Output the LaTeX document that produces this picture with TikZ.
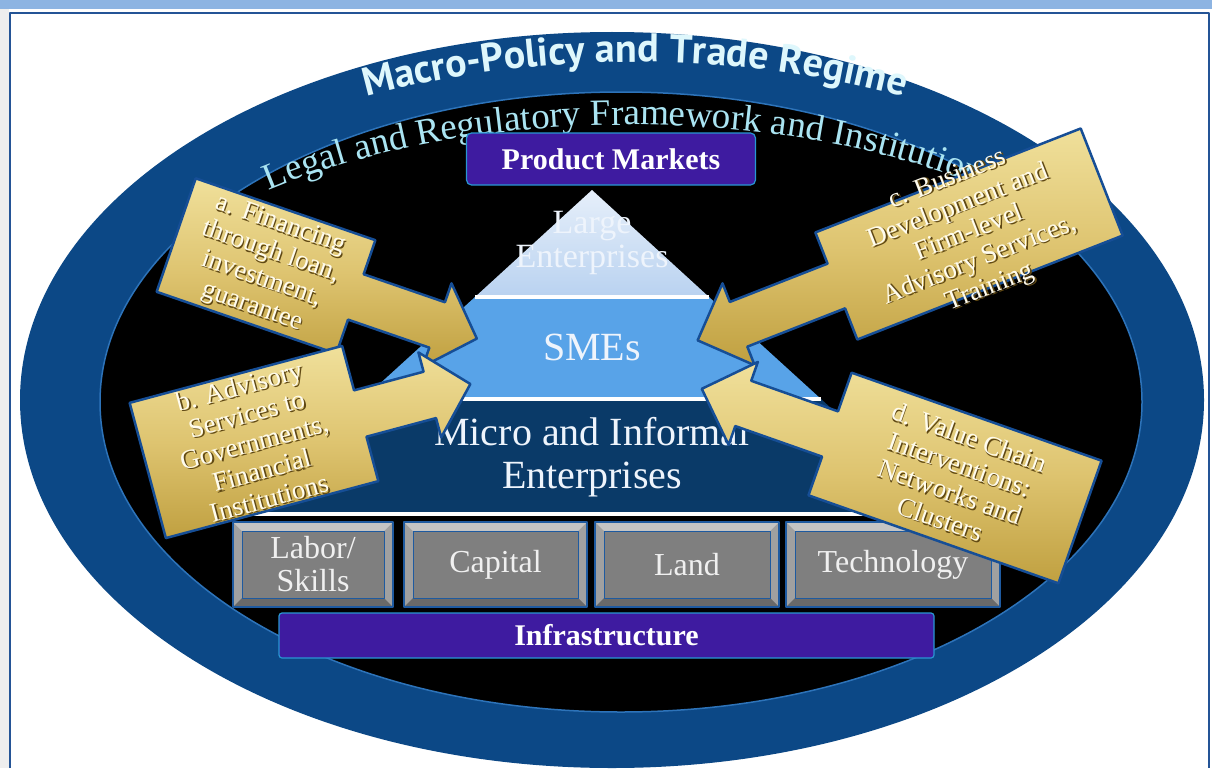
\documentclass[tikz,border=0pt]{standalone}
\usepackage{fontspec}
\setmainfont{Liberation Serif}
\newfontfamily\macrofont{PT Sans}
\usetikzlibrary{decorations.text}
\definecolor{topband}{RGB}{141,180,226}
\definecolor{stripgray}{RGB}{238,238,238}
\definecolor{framec}{RGB}{36,84,150}
\definecolor{ringc}{RGB}{12,72,134}
\definecolor{ringedge}{RGB}{45,115,185}
\definecolor{pmfill}{RGB}{62,27,160}
\definecolor{pmedge}{RGB}{40,150,210}
\definecolor{largeT}{RGB}{230,239,250}
\definecolor{largeB}{RGB}{185,210,240}
\definecolor{smec}{RGB}{88,163,232}
\definecolor{microc}{RGB}{10,58,104}
\definecolor{faceC}{RGB}{127,127,127}
\definecolor{bevelc}{RGB}{160,160,160}
\definecolor{bevelL}{RGB}{196,196,196}
\definecolor{bevelD}{RGB}{105,105,105}
\definecolor{boxblue}{RGB}{30,90,160}
\definecolor{goldD}{RGB}{192,160,64}
\definecolor{goldM}{RGB}{222,196,112}
\definecolor{goldL}{RGB}{240,224,155}
\definecolor{arrowedge}{RGB}{22,78,150}
\definecolor{arrowwhite}{RGB}{255,252,238}
\definecolor{shadowc}{RGB}{95,72,20}
\definecolor{curveA}{RGB}{222,247,252}
\definecolor{curveB}{RGB}{170,228,242}
\definecolor{pyrtextc}{RGB}{238,244,252}
\newcommand{\macrostyle}{\macrofont\bfseries\fontsize{40}{44}\selectfont\color{curveA}}
\newcommand{\legalstyle}{\fontsize{37}{40}\selectfont\color{curveB}}
% gold callout arrow: W H L hl s h  (box centred at origin, pointing to +x)
\newcommand{\goldshape}[6]{%
  \filldraw[goldarrow] ({-#1/2},{-#2/2}) -- ({#1/2},{-#2/2}) -- ({#1/2},{-#5/2})
    -- ({#1/2+#3},{-#5/2}) -- ({#1/2+#3},{-#6/2}) -- ({#1/2+#3+#4},0)
    -- ({#1/2+#3},{#6/2}) -- ({#1/2+#3},{#5/2}) -- ({#1/2},{#5/2})
    -- ({#1/2},{#2/2}) -- ({-#1/2},{#2/2}) -- cycle;}
\newcommand{\arrowlabel}[2]{%
  \node[arrowshadow] (#1s) at (1.5,1.5) {#2};
  \node[arrowtext] (#1) at (0,0) {#2};}
\newcommand{\factorbox}[6]{%
  \fill[bevelc] (#2,#3) rectangle (#4,#5);
  \fill[bevelL] (#2,#3) -- (#4,#3) -- (#4-9,#3+9) -- (#2+9,#3+9) -- cycle;
  \fill[bevelD] (#2,#5) -- (#4,#5) -- (#4-9,#5-9) -- (#2+9,#5-9) -- cycle;
  \fill[faceC] (#2+9,#3+9) rectangle (#4-9,#5-9);
  \draw[boxblue, line width=1pt] (#2+9,#3+9) rectangle (#4-9,#5-9);
  \draw[boxblue, line width=2.2pt] (#2,#3) rectangle (#4,#5);
  \node[factortext] (#1) at ({(#2+#4)/2},{(#3+#5)/2}) {#6};}
\tikzset{
  goldarrow/.style={draw=arrowedge, line width=2.5pt, top color=goldL, bottom color=goldD, middle color=goldM},
  arrowtext/.style={transform shape, align=center, text=arrowwhite, font=\fontsize{27}{29}\selectfont, inner sep=0pt},
  arrowshadow/.style={arrowtext, text=shadowc},
  pmbox/.style={draw=pmedge, line width=1.2pt, fill=pmfill, rounded corners=5pt, text=white, font=\bfseries\fontsize{30}{32}\selectfont, inner sep=0pt},
  pyrtext/.style={align=center, text=pyrtextc, inner sep=0pt},
  factortext/.style={align=center, text=white!94!black, font=\fontsize{32}{33}\selectfont, inner sep=0pt}
}
\begin{document}
\begin{tikzpicture}[x=1pt, y=-1pt, line join=round]
\useasboundingbox (0,0) rectangle (1212,768);
\fill[white] (0,0) rectangle (1212,768);
\fill[stripgray] (0,0) rectangle (9,768);
\fill[topband] (0,0) rectangle (1212,9);
\draw[framec, line width=1.5pt] (10,768) -- (10,13) -- (1209,13) -- (1209,768);
% rings
\fill[ringc] (612,400) ellipse [x radius=592, y radius=368];
\filldraw[fill=black, draw=ringedge, line width=1.5pt] (621,402) ellipse [x radius=521, y radius=310];
% curved texts
\path[decorate, decoration={text along path, text align=center,
  text={|\macrostyle|Macro-Policy and Trade Regime}}]
  (635,402) ++(195:610 and 340) arc[start angle=195, end angle=345, x radius=610, y radius=340];
\path[decorate, decoration={text along path, text align=center,
  text={|\legalstyle|Legal and Regulatory Framework and Institutions}}]
  (630,402) ++(190:560 and 277) arc[start angle=190, end angle=350, x radius=560, y radius=277];
% product markets
\node[pmbox, minimum width=289pt, minimum height=52pt] (pm) at (611,159) {Product Markets};
% pyramid
\shade[top color=largeT, bottom color=largeB] (592,190) -- (709,297) -- (475,297) -- cycle;
\fill[smec] (475,297) -- (709,297) -- (821,399) -- (363,399) -- cycle;
\fill[microc] (363,399) -- (821,399) -- (946,513) -- (238,513) -- cycle;
\draw[white, line width=4pt] (475,297) -- (709,297);
\draw[white, line width=4pt] (363,399) -- (821,399);
\draw[white, line width=4pt] (240,514) -- (944,514);
\node[pyrtext, font=\fontsize{34}{34}\selectfont] (large) at (592,243) {Large\\Enterprises};
\node[pyrtext, font=\fontsize{40}{42}\selectfont] (smes) at (592,347) {SMEs};
\node[pyrtext, font=\fontsize{40}{43}\selectfont] (micro) at (592,457) {Micro and Informal\\Enterprises};
% factor boxes
\factorbox{labor}{233}{522}{393}{607}{Labor/\\Skills}
\factorbox{capital}{404}{522}{587}{607}{Capital}
\factorbox{land}{595}{522}{779}{607}{Land}
\factorbox{tech}{786}{522}{1000}{607}{Technology}
% infrastructure
\node[pmbox, rounded corners=3pt, minimum width=655pt, minimum height=45pt] (infra) at (606.5,635.5) {Infrastructure};
% gold arrows
\begin{scope}[shift={(266,266)}, rotate=-19]
  \goldshape{190}{120}{86}{42}{48}{88}
  \arrowlabel{fin}{a. Financing\\through loan,\\investment,\\guarantee}
\end{scope}
\begin{scope}[shift={(254,442)}, rotate=15]
  \goldshape{220}{140}{72}{42}{48}{88}
  \arrowlabel{adv}{b. Advisory\\Services to\\Governments,\\Financial\\Institutions}
\end{scope}
\begin{scope}[shift={(969,234)}, rotate=21.4]
  \begin{scope}[xscale=-1]
    \goldshape{285}{115}{105}{44}{48}{88}
  \end{scope}
  \arrowlabel{bds}{c. Business\\Development and\\Firm-level\\Advisory Services,\\Training}
\end{scope}
\begin{scope}[shift={(955,478)}, rotate=-19.4]
  \begin{scope}[xscale=-1]
    \goldshape{265}{130}{92}{44}{48}{88}
  \end{scope}
  \arrowlabel{val}{d. Value Chain\\Interventions:\\Networks and\\Clusters}
\end{scope}
\end{tikzpicture}
\end{document}
